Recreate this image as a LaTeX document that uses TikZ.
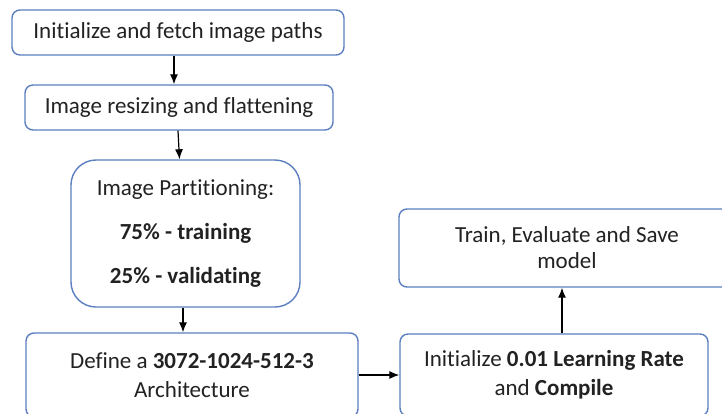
\documentclass[tikz,border=0pt]{standalone}
\usepackage{fontspec}
\setmainfont{Carlito}[Ligatures=NoCommon]
\usetikzlibrary{arrows.meta}
\definecolor{boxline}{HTML}{5B7FBF}
\definecolor{boxtext}{HTML}{222222}
\tikzset{
        box/.style={draw=boxline, line width=1.4pt, rounded corners=8pt, fill=white,
                text=boxtext, align=center, inner sep=0pt,
                font=\fontsize{23}{29}\selectfont},
        flow/.style={-{Latex[length=10pt,width=8pt]}, line width=1.2pt, black}
}
\begin{document}
\begin{tikzpicture}[x=1pt,y=-1pt]
        \useasboundingbox (0,0) rectangle (722,413);

        \node[box, minimum width=332pt, minimum height=45pt] (Fetch) at (178,32.5)
                {Initialize and fetch image paths};
        \node[box, minimum width=308pt, minimum height=45pt] (Resize) at (179,107.5)
                {Image resizing and flattening};
        \node[box, rounded corners=25pt, minimum width=229pt, minimum height=147pt] (Split) at (185.5,233.5)
                {Image Partitioning:\\[15pt] \textbf{75\% - training}\\[15pt] \textbf{25\% - validating}};
        \node[box, minimum width=332pt, minimum height=84pt] (Arch) at (192,375)
                {Define a \textbf{3072-1024-512-3}\\ Architecture};
        \node[box, minimum width=308pt, minimum height=82pt] (Rate) at (554,375)
                {Initialize \textbf{0.01 Learning Rate}\\ and \textbf{Compile}};
        \node[box, minimum width=336pt, minimum height=78pt] (Train) at (567,248)
                {Train, Evaluate and Save\\[-3pt] model};

        \draw[flow] ([xshift=-4pt]Fetch.south) -- ([xshift=-5pt]Resize.north);
        \draw[flow] ([xshift=-1pt]Resize.south) -- ([xshift=-6pt]Split.north);
        \draw[flow] ([xshift=-2.5pt]Split.south) -- ([xshift=-9pt]Arch.north);
        \draw[flow] (Arch.east) -- (Rate.west);
        \draw[flow] ([xshift=8pt]Rate.north) -- ([xshift=-5pt]Train.south);
\end{tikzpicture}
\end{document}
